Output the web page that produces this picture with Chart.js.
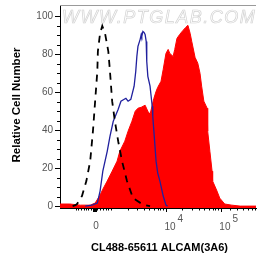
<!DOCTYPE html>
<html>
<head>
<meta charset="utf-8">
<script src="https://cdn.jsdelivr.net/npm/chart.js@4.4.0/dist/chart.umd.min.js"></script>
<style>
body { margin: 0; background: #fff; }
canvas { display: block; }
</style>
</head>
<body>
<canvas id="MyChart" width="258" height="262"></canvas>
<script>
// x = position on the logicle axis in decades (4 = 10^4), y = % of max
isoX = [2.30, 2.35, 2.38, 2.47, 2.55, 2.62, 2.67, 2.71, 2.75, 2.76, 2.80, 2.84, 2.89, 2.95, 2.98, 3.02, 3.07, 3.13, 3.20, 3.29, 3.40, 3.58, 3.71]
isoY = [0, 0.5, 1.1, 5.3, 13.2, 23.7, 39.5, 55.3, 71.1, 81.6, 91.1, 95, 91.1, 81.6, 71.1, 55.3, 44.7, 34.2, 23.7, 13.2, 4.2, 0.8, 0]

blueX = [2.53, 2.65, 2.75, 2.80, 2.85, 2.93, 2.98, 3.04, 3.13, 3.18, 3.24, 3.27, 3.31, 3.36, 3.42, 3.45, 3.47, 3.49, 3.53, 3.55, 3.56, 3.58, 3.60, 3.62, 3.64, 3.65, 3.67, 3.71, 3.73, 3.75, 3.76, 3.78, 3.82, 3.85, 3.89, 3.95, 4.00, 4.03]
blueY = [0, 0.5, 1.6, 7.9, 18.4, 28.9, 36.8, 44.7, 51.1, 55.3, 56.3, 56.8, 55.3, 56.3, 63.2, 71.1, 78.9, 84.2, 87.9, 90.5, 89.5, 92.1, 91.6, 90.5, 86.8, 76.3, 68.4, 63.2, 57.9, 52.6, 47.4, 39.5, 23.7, 17.4, 13.2, 5.3, 0.5, 0]

redX = [2.07, 2.25, 2.44, 2.62, 2.71, 2.80, 2.85, 2.93, 3.02, 3.11, 3.16, 3.25, 3.31, 3.38, 3.44, 3.49, 3.55, 3.62, 3.67, 3.71, 3.75, 3.78, 3.82, 3.85, 3.91, 3.95, 4.00, 4.04, 4.07, 4.13, 4.16, 4.20, 4.25, 4.31, 4.36, 4.40, 4.44, 4.47, 4.53, 4.58, 4.62, 4.65, 4.69, 4.75, 4.76, 4.80, 4.84, 4.85, 4.93, 4.98, 5.07, 5.20, 5.35, 5.64]
redY = [1.1, 1.1, 0.5, 0.5, 1.6, 5.8, 8.9, 13.2, 18.4, 23.7, 28.9, 34.2, 39.5, 44.7, 50, 51.6, 52.1, 53.2, 50, 48.4, 53.2, 56.8, 60.5, 62.6, 65.8, 72.1, 80.5, 82.6, 80.5, 78.9, 82.6, 88.4, 90.5, 92.6, 94.2, 95.3, 91.1, 86.8, 78.4, 75.3, 70, 63.2, 55.3, 51.6, 39.5, 28.9, 18.4, 13.2, 7.9, 4.2, 1.1, 0.5, 0, 0]

// axis ticks
xTickVals = [2.69, 4, 5]
xTickBase = ['0', '10', '10']
xTickSup = ['', '4', '5']
xMinor = [2.36, 2.40, 2.45, 2.51, 2.55, 2.58, 2.64, 2.75, 2.80, 2.85, 2.91, 2.95, 3.00, 3.30, 3.48, 3.60, 3.70, 3.78, 3.85, 3.90, 3.95, 4.30, 4.48, 4.60, 4.70, 4.78, 4.85, 4.90, 4.95, 5.16, 5.29, 5.40, 5.49, 5.56, 5.62]
yTicks = [0, 20, 40, 60, 80, 100]
yMinor = [5, 10, 15, 25, 30, 35, 45, 50, 55, 65, 70, 75, 85, 90, 95]

xTitle = 'CL488-65611 ALCAM(3A6)'
yTitle = 'Relative Cell Number'
watermark = 'WWW.PTGLAB.COM'

function pts(xs, ys) {
    return xs.map((x, i) => ({ x: x, y: ys[i] }))
}

const deco = {
    id: 'deco',
    beforeDatasetsDraw(chart) {
        const c = chart.ctx
        const a = chart.chartArea
        c.save()
        c.font = 'italic 18px "Liberation Sans", Arial, sans-serif'
        c.letterSpacing = '1.5px'
        c.textBaseline = 'alphabetic'
        c.textAlign = 'left'
        c.strokeStyle = '#d3d3d3'
        c.lineWidth = 0.7
        c.strokeText(watermark, a.left + 2, a.top + 18)
        c.restore()
    },
    afterDraw(chart) {
        const c = chart.ctx
        const a = chart.chartArea
        const xs = chart.scales.x
        const ys = chart.scales.y
        c.save()
        c.letterSpacing = '0px'
        // top frame line
        c.strokeStyle = '#9a9a9a'
        c.lineWidth = 1
        c.beginPath()
        c.moveTo(a.left, a.top + 0.5)
        c.lineTo(a.right, a.top + 0.5)
        c.stroke()

        c.strokeStyle = '#000'
        c.beginPath()
        yTicks.forEach(v => {
            const y = Math.round(ys.getPixelForValue(v)) + 0.5
            c.moveTo(a.left - 5, y); c.lineTo(a.left, y)
        })
        yMinor.forEach(v => {
            const y = Math.round(ys.getPixelForValue(v)) + 0.5
            c.moveTo(a.left - 3, y); c.lineTo(a.left, y)
        })
        xTickVals.forEach(v => {
            const x = Math.round(xs.getPixelForValue(v)) + 0.5
            c.moveTo(x, a.bottom); c.lineTo(x, a.bottom + 4)
        })
        xMinor.forEach(v => {
            const x = Math.round(xs.getPixelForValue(v)) + 0.5
            c.moveTo(x, a.bottom); c.lineTo(x, a.bottom + 2.5)
        })
        c.stroke()
        // zero marker block
        const x0 = Math.round(xs.getPixelForValue(xTickVals[0]))
        c.fillStyle = '#000'
        c.fillRect(x0 - 1, a.bottom, 4, 4)

        // tick labels
        c.fillStyle = '#555'
        c.font = '10px "Liberation Sans", Arial, sans-serif'
        c.textAlign = 'right'
        c.textBaseline = 'middle'
        yTicks.forEach(v => {
            c.fillText(String(v), a.left - 7, ys.getPixelForValue(v))
        })
        c.textBaseline = 'alphabetic'
        c.textAlign = 'left'
        for (let i = 0; i < xTickVals.length; i++) {
            const x = xs.getPixelForValue(xTickVals[i])
            const base = xTickBase[i]
            const w = c.measureText(base).width
            if (xTickSup[i] === '') {
                c.fillText(base, x + 2 - w / 2, a.bottom + 21)
            } else {
                c.fillText(base, x - 1.5, a.bottom + 22)
                c.fillText(xTickSup[i], x - 0.5 + w + 1, a.bottom + 14)
            }
        }

        // axis titles
        c.fillStyle = '#000'
        c.font = 'bold 11px "Liberation Sans", Arial, sans-serif'
        c.textAlign = 'center'
        c.textBaseline = 'middle'
        c.fillText(xTitle, 159.5, 248)
        c.translate(17, 105)
        c.rotate(-Math.PI / 2)
        c.font = 'bold 11.5px "Liberation Sans", Arial, sans-serif'
        c.fillText(yTitle, 0, 0)
        c.restore()
    }
}

const canvas = document.getElementById('MyChart')

const data = {
    datasets: [{
        label: 'isotype',
        data: pts(isoX, isoY),
        borderColor: '#000',
        borderWidth: 1.8,
        borderDash: [7, 6],
        fill: false,
        pointRadius: 0,
        order: 0
    }, {
        label: 'unstained',
        data: pts(blueX, blueY),
        borderColor: '#20209e',
        borderWidth: 1.3,
        fill: false,
        pointRadius: 0,
        order: 1
    }, {
        label: 'ALCAM',
        data: pts(redX, redY),
        borderColor: '#ff0000',
        backgroundColor: '#ff0000',
        borderWidth: 1,
        fill: 'start',
        pointRadius: 0,
        order: 2
    }]
}

const config = {
    type: 'line',
    data: data,
    options: {
        responsive: false,
        animation: false,
        devicePixelRatio: 1,
        layout: { padding: { left: 60, right: 2, top: 5, bottom: 54 } },
        plugins: {
            legend: { display: false },
            tooltip: { enabled: false }
        },
        scales: {
            x: {
                type: 'linear',
                min: 2.07,
                max: 5.64,
                grid: { display: false },
                ticks: { display: false },
                border: { display: true, color: '#000', width: 1 },
                afterFit: s => { s.height = 0 }
            },
            y: {
                type: 'linear',
                min: -1,
                max: 106,
                grid: { display: false },
                ticks: { display: false },
                border: { display: true, color: '#000', width: 1 },
                afterFit: s => { s.width = 0 }
            }
        }
    },
    plugins: [deco]
}

new Chart(canvas, config)
</script>
</body>
</html>
